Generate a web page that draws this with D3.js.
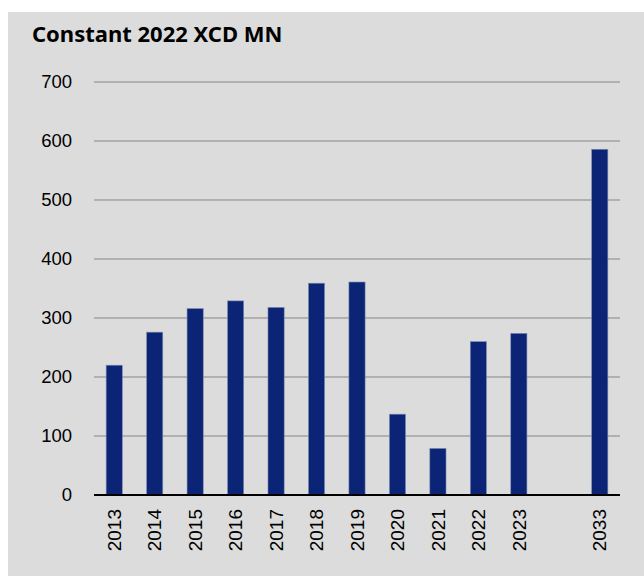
<!DOCTYPE html>
<html><head><meta charset="utf-8">
<script src="https://cdn.jsdelivr.net/npm/d3@7"></script>
<style>
html,body{margin:0;padding:0;background:#fff;}
svg{display:block;}
</style></head>
<body>
<script>
const categories = ["2013","2014","2015","2016","2017","2018","2019","2020","2021","2022","2023","","2033"];
const values = [220, 276, 316, 329, 318, 359, 361, 137, 79, 260, 274, null, 586];
const yTicks = [0,100,200,300,400,500,600,700];
const title = "Constant 2022 XCD MN";

const W = 644, H = 576;
const margin = {left: 94, right: 24, top: 82, bottom: 81};
const svg = d3.select("body").append("svg").attr("width", W).attr("height", H);
svg.append("rect").attr("x", 8).attr("y", 12).attr("width", W - 8).attr("height", H - 12).attr("fill", "#dcdcdc");

const x = d3.scaleBand().domain(categories.map((c,i)=>i)).range([margin.left, W - margin.right]).paddingInner(0.6).paddingOuter(0.3);
const y = d3.scaleLinear().domain([0,700]).range([H - margin.bottom, margin.top]);

// grid
svg.append("g").selectAll("line").data(yTicks.filter(d=>d>0)).join("line")
  .attr("x1", margin.left).attr("x2", W - margin.right)
  .attr("y1", d=>y(d)).attr("y2", d=>y(d))
  .attr("stroke", "#858585").attr("stroke-width", 1);

// y labels
const yAxis = d3.axisLeft(y).tickValues(yTicks).tickSize(0).tickPadding(22);
const gy = svg.append("g").attr("transform", `translate(${margin.left},0)`).call(yAxis);
gy.select(".domain").remove();
gy.selectAll("text").attr("font-family", "Liberation Sans, Arial, sans-serif").attr("font-size", 18.5).attr("fill", "#000");

// bars
const data = categories.map((c,i)=>({c, i, v: values[i]})).filter(d=>d.v != null);
svg.append("g").selectAll("rect").data(data).join("rect")
  .attr("x", d=>x(d.i)).attr("width", x.bandwidth())
  .attr("y", d=>y(d.v)).attr("height", d=>y(0)-y(d.v))
  .attr("fill", "#0b2475").attr("stroke", "#7f8fb3").attr("stroke-width", 0.6);

// x axis
const xAxis = d3.axisBottom(x).tickFormat(i=>categories[i]).tickSize(0).tickPadding(0);
const gx = svg.append("g").attr("transform", `translate(0,${y(0)})`).call(xAxis);
gx.select(".domain").remove();
gx.selectAll("text")
  .attr("font-family", "Liberation Sans, Arial, sans-serif").attr("font-size", 19).attr("fill", "#000")
  .attr("transform", "rotate(-90)").attr("text-anchor", "end")
  .attr("x", -14).attr("y", 0).attr("dy", "0.35em");
svg.append("line").attr("x1", margin.left).attr("x2", W - margin.right)
  .attr("y1", y(0)).attr("y2", y(0)).attr("stroke", "#000").attr("stroke-width", 2);

// title
svg.append("text").attr("x", 32).attr("y", 42).text(title)
  .attr("font-family", "'Noto Sans', 'Open Sans', sans-serif").attr("font-weight", "bold").attr("font-size", 22).attr("fill", "#000");
</script>
</body></html>
